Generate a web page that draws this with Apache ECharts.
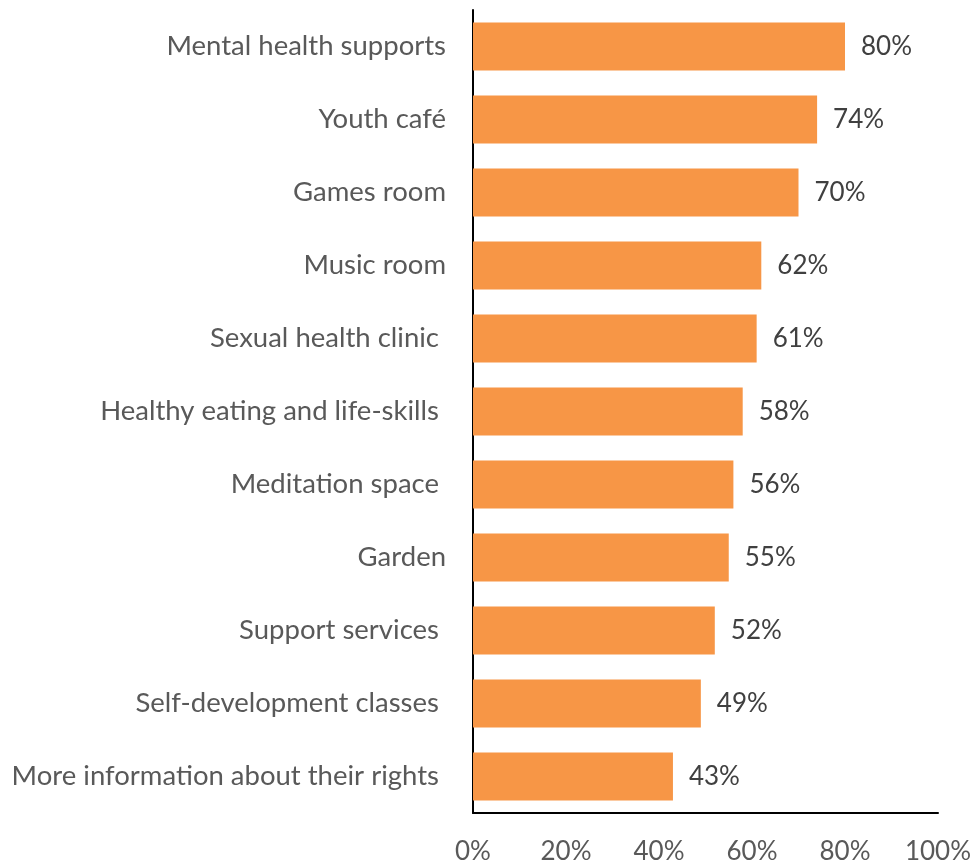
<!DOCTYPE html>
<html><head><meta charset="utf-8">
<script src="https://cdn.jsdelivr.net/npm/echarts@6/dist/echarts.min.js"></script>
<style>html,body{margin:0;padding:0;background:#fff}#c{width:976px;height:865px}</style>
</head><body><div id="c"></div>
<script>
const categories = ["Mental health supports","Youth café","Games room","Music room","Sexual health clinic ","Healthy eating and life-skills ","Meditation space ","Garden","Support services ","Self-development classes ","More information about their rights "];
const values = [80,74,70,62,61,58,56,55,52,49,43];
const xTicks = [0,20,40,60,80,100];

const chart = echarts.init(document.getElementById('c'));
const font = 'Lato, sans-serif';
chart.setOption({
  animation:false,
  grid:{left:473,right:38,top:10,bottom:51,containLabel:false},
  xAxis:{type:'value',min:0,max:100,interval:20,
    axisLine:{show:true,lineStyle:{color:'#000',width:2}},
    axisTick:{show:false},splitLine:{show:false},
    axisLabel:{formatter:v=>v+'%',fontSize:26,color:'#595959',fontFamily:font,margin:26}},
  yAxis:{type:'category',data:categories,inverse:true,
    axisLine:{show:true,lineStyle:{color:'#000',width:2}},
    axisTick:{show:false},
    axisLabel:{fontSize:27.5,color:'#595959',fontFamily:font,margin:27}},
  series:[{type:'bar',data:values,barCategoryGap:'34%',
    itemStyle:{color:'#F79646'},
    label:{show:true,position:'right',distance:16,formatter:p=>p.value+'%',fontSize:26,color:'#404040',fontFamily:font}}]
});
</script></body></html>
